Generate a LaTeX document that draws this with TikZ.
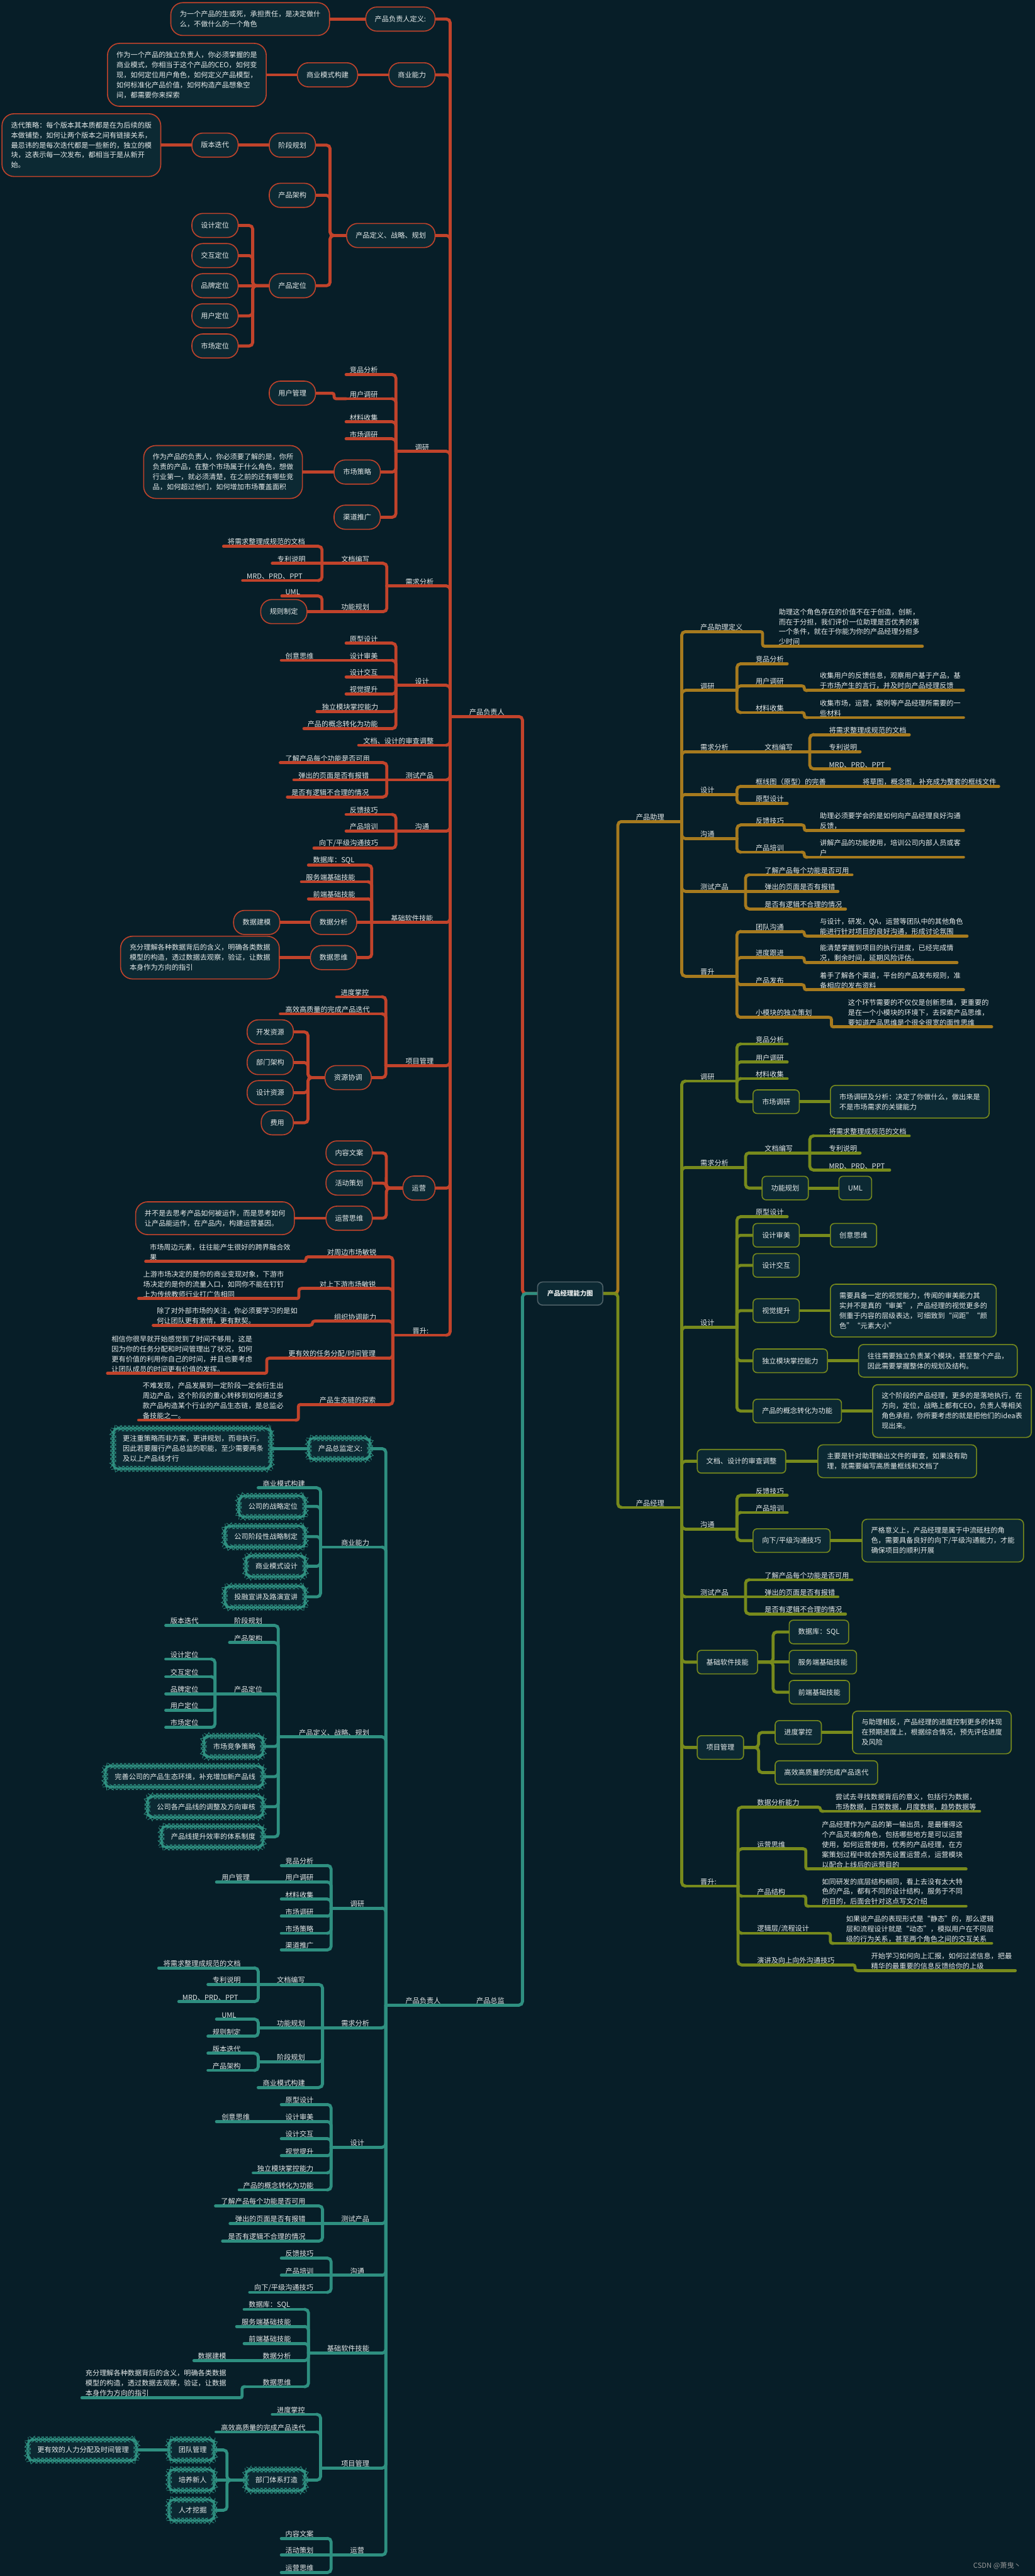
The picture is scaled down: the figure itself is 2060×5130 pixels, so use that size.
\documentclass[tikz,border=0pt]{standalone}
\usepackage{fontspec}
\setmainfont{Noto Sans CJK SC}
\usetikzlibrary{backgrounds,decorations.pathmorphing}
\definecolor{bgc}{RGB}{7,30,40}
\definecolor{nfill}{RGB}{12,41,51}
\definecolor{cred}{RGB}{193,67,43}
\definecolor{cgold}{RGB}{166,122,30}
\definecolor{coli}{RGB}{119,138,28}
\definecolor{cteal}{RGB}{46,143,128}
\definecolor{ctxt}{RGB}{230,235,235}
\definecolor{cgray}{RGB}{79,97,104}
\newcommand\fsz{\fontsize{14}{20}\selectfont}
\newcommand\ML[7]{%
  \coordinate (#1-l) at (#3,#5);%
  \coordinate (#1-r) at (#4,#5);%
  \node[lt,anchor=south west] (#1) at (#6,#5-2) {#7};%
  \draw[ln=#2] (#1-l) -- (#1-r);%
}
\newcommand\CV[3]{\draw[ln=#1] (#2) |- (#3);}
\newcommand\CS[3]{\draw[ln=#1] (#2) -- (#3);}
\newcommand\CX[4]{\draw[ln=#1] (#2) -- ++(#3,0) |- (#4);}
\newcommand\CT[3]{\draw[ln=#1,rounded corners=4pt] (#2) -- ++(-6,0) |- (#3);}
\newcommand\CTR[3]{\draw[ln=#1,rounded corners=4pt] (#2) -- ++(6,0) |- (#3);}
\begin{document}
\begin{tikzpicture}[x=1pt,y=-1pt,
  lt/.style={inner sep=0pt,align=left,text=ctxt,font=\fsz},
  ln/.style={draw=#1,line width=6pt,line cap=round,rounded corners=7pt},
  rb/.style={draw=cred,line width=2pt,fill=nfill,rounded corners=22pt,minimum height=48pt,inner xsep=18pt,inner ysep=0pt,text=ctxt,font=\fsz},
  rtb/.style={draw=cred,line width=2pt,fill=nfill,rounded corners=24pt,inner xsep=18pt,inner ysep=16pt,align=left,text=ctxt,font=\fsz},
  ob/.style={draw=coli,line width=2pt,fill=nfill,rounded corners=8pt,minimum height=47pt,inner xsep=18pt,inner ysep=0pt,text=ctxt,font=\fsz},
  otb/.style={draw=coli,line width=2pt,fill=nfill,rounded corners=10pt,inner xsep=18pt,inner ysep=16pt,align=left,text=ctxt,font=\fsz},
  tc/.style={draw=cteal,line width=1.1pt,fill=nfill,rounded corners=10pt,decorate,decoration={snake,segment length=8pt,amplitude=0.9pt},minimum height=42pt,inner xsep=17pt,inner ysep=0pt,text=ctxt,font=\fsz},
  tct/.style={draw=cteal,line width=1.1pt,fill=nfill,rounded corners=10pt,decorate,decoration={snake,segment length=8pt,amplitude=0.9pt},inner xsep=17pt,inner ysep=14pt,align=left,text=ctxt,font=\fsz}
]
\begin{scope}[on background layer]\fill[bgc] (0,0) rectangle (2060,5130);\end{scope}
\useasboundingbox (0,0) rectangle (2060,5130);

\node[draw=cgray,line width=2pt,fill=nfill,rounded corners=10pt,minimum width=130pt,minimum height=46pt,font=\bfseries\fontsize{13}{15}\selectfont,text=ctxt] (ctr) at (1135,2576) {产品经理能力图};

% ================= RED =================
\ML{pfr}{cred}{896}{1033}{1427}{934}{产品负责人}
\node[rb,anchor=east] (r1) at (867,38) {产品负责人定义:};
\node[rtb,anchor=east] (r1t) at (657,38) {为一个产品的生或死，承担责任，是决定做什\\么，不做什么的一个角色};
\node[rb,anchor=east] (r2) at (867,149) {商业能力};
\node[rb,anchor=east] (r2a) at (713,149) {商业模式构建};
\node[rtb,anchor=east] (r2at) at (531,149) {作为一个产品的独立负责人，你必须掌握的是\\商业模式，你相当于这个产品的CEO，如何变\\现，如何定位用户角色，如何定义产品模型，\\如何标准化产品价值，如何构造产品想象空\\间，都需要你来探索};
\node[rb,anchor=east] (r3) at (867,469) {产品定义、战略、规划};
\node[rb,anchor=east] (r3a) at (629,289) {阶段规划};
\node[rb,anchor=east] (r3a1) at (475,289) {版本迭代};
\node[rtb,anchor=east] (r3a1t) at (321,289) {迭代策略：每个版本其本质都是在为后续的版\\本做铺垫，如何让两个版本之间有链接关系，\\最忌讳的是每次迭代都是一些新的，独立的模\\块，这表示每一次发布，都相当于是从新开\\始。};
\node[rb,anchor=east] (r3b) at (629,389) {产品架构};
\node[rb,anchor=east] (r3c) at (629,569) {产品定位};
\node[rb,anchor=east] (r3c1) at (475,449) {设计定位};
\node[rb,anchor=east] (r3c2) at (475,509) {交互定位};
\node[rb,anchor=east] (r3c3) at (475,569) {品牌定位};
\node[rb,anchor=east] (r3c4) at (475,629) {用户定位};
\node[rb,anchor=east] (r3c5) at (475,689) {市场定位};
\ML{r4}{cred}{788}{888}{899}{826}{调研}
\ML{r4a}{cred}{689}{780}{746}{696}{竞品分析}
\ML{r4b}{cred}{689}{780}{794}{696}{用户调研}
\node[rb,anchor=east] (r4b1) at (629,783) {用户管理};
\ML{r4c}{cred}{689}{780}{840}{696}{材料收集}
\ML{r4d}{cred}{689}{780}{874}{696}{市场调研}
\node[rb,anchor=east] (r4e) at (758,940) {市场策略};
\node[rtb,anchor=east] (r4et) at (603,940) {作为产品的负责人，你必须要了解的是，你所\\负责的产品，在整个市场属于什么角色，想做\\行业第一，就必须清楚，在之前的还有哪些竞\\品，如何超过他们，如何增加市场覆盖面积};
\node[rb,anchor=east] (r4f) at (758,1030) {渠道推广};
\ML{r5}{cred}{770}{888}{1167}{807}{需求分析}
\ML{r5a}{cred}{641}{762}{1122}{679}{文档编写}
\ML{r5a1}{cred}{445}{633}{1088}{453}{将需求整理成规范的文档}
\ML{r5a2}{cred}{542}{633}{1122}{552}{专利说明}
\ML{r5a3}{cred}{483}{633}{1156}{491}{MRD、PRD、PPT}
\ML{r5b}{cred}{641}{762}{1218}{679}{功能规划}
\ML{r5b1}{cred}{561}{633}{1187}{568}{UML}
\node[rb,anchor=east] (r5b2) at (612,1218) {规则制定};
\ML{r6}{cred}{788}{888}{1365}{826}{设计}
\ML{r6a}{cred}{689}{780}{1281}{696}{原型设计}
\ML{r6b}{cred}{689}{780}{1315}{696}{设计审美}
\ML{r6b1}{cred}{560}{689}{1315}{568}{创意思维}
\ML{r6c}{cred}{689}{780}{1348}{696}{设计交互}
\ML{r6d}{cred}{689}{780}{1382}{696}{视觉提升}
\ML{r6e}{cred}{631}{780}{1417}{641}{独立模块掌控能力}
\ML{r6f}{cred}{605}{780}{1451}{612}{产品的概念转化为功能}
\ML{r7}{cred}{714}{888}{1484}{723}{文档、设计的审查调整}
\ML{r8}{cred}{770}{888}{1553}{807}{测试产品}
\ML{r8a}{cred}{558}{762}{1519}{568}{了解产品每个功能是否可用}
\ML{r8b}{cred}{585}{762}{1553}{594}{弹出的页面是否有报错}
\ML{r8c}{cred}{572}{762}{1587}{580}{是否有逻辑不合理的情况}
\ML{r9}{cred}{788}{888}{1655}{826}{沟通}
\ML{r9a}{cred}{689}{780}{1622}{696}{反馈技巧}
\ML{r9b}{cred}{689}{780}{1655}{696}{产品培训}
\ML{r9c}{cred}{625}{780}{1689}{635}{向下/平级沟通技巧}
\ML{r10}{cred}{740}{888}{1837}{778}{基础软件技能}
\ML{r10a}{cred}{614}{732}{1723}{623}{数据库：SQL}
\ML{r10b}{cred}{600}{732}{1756}{609}{服务端基础技能}
\ML{r10c}{cred}{614}{732}{1790}{623}{前端基础技能}
\node[rb,anchor=east] (r10d) at (711,1837) {数据分析};
\node[rb,anchor=east] (r10d1) at (558,1837) {数据建模};
\node[rb,anchor=east] (r10e) at (711,1907) {数据思维};
\node[rtb,anchor=east] (r10et) at (557,1907) {充分理解各种数据背后的含义，明确各类数据\\模型的构造，透过数据去观察，验证，让数据\\本身作为方向的指引};
\ML{r11}{cred}{768}{888}{2122}{807}{项目管理}
\ML{r11a}{cred}{670}{760}{1985}{678}{进度掌控}
\ML{r11b}{cred}{558}{760}{2019}{568}{高效高质量的完成产品迭代}
\node[rb,anchor=east] (r11c) at (740,2146) {资源协调};
\node[rb,anchor=east] (r11c1) at (585,2055) {开发资源};
\node[rb,anchor=east] (r11c2) at (585,2116) {部门架构};
\node[rb,anchor=east] (r11c3) at (585,2176) {设计资源};
\node[rb,anchor=east] (r11c4) at (585,2236) {费用};
\node[rb,anchor=east] (r12) at (867,2366) {运营};
\node[rb,anchor=east] (r12a) at (742,2296) {内容文案};
\node[rb,anchor=east] (r12b) at (742,2356) {活动策划};
\node[rb,anchor=east] (r12c) at (742,2426) {运营思维};
\node[rtb,anchor=east] (r12ct) at (587,2426) {并不是去思考产品如何被运作，而是思考如何\\让产品能运作，在产品内，构建运营基因。};
\ML{r13}{cred}{782}{888}{2659}{821}{晋升:}
\ML{r13a}{cred}{615}{774}{2503}{651}{对周边市场敏锐}
\ML{r13at}{cred}{290}{603}{2512}{298}{市场周边元素，往往能产生很好的跨界融合效\\果}
\ML{r13b}{cred}{601}{774}{2566}{636}{对上下游市场敏锐}
\ML{r13bt}{cred}{276}{589}{2586}{285}{上游市场决定的是你的商业变现对象，下游市\\场决定的是你的流量入口，如同你不能在钉钉\\上为传统教师行业打广告相同}
\ML{r13c}{cred}{628}{774}{2631}{665}{组织协调能力}
\ML{r13ct}{cred}{305}{616}{2639}{312}{除了对外部市场的关注，你必须要学习的是如\\何让团队更有激情，更有默契。}
\ML{r13d}{cred}{537}{774}{2705}{574}{更有效的任务分配/时间管理}
\ML{r13dt}{cred}{214}{525}{2735}{222}{相信你很早就开始感觉到了时间不够用，这是\\因为你的任务分配和时间管理出了状况，如何\\更有价值的利用你自己的时间，并且也要考虑\\让团队成员的时间更有价值的发挥。}
\ML{r13e}{cred}{600}{774}{2797}{636}{产品生态链的探索}
\ML{r13et}{cred}{276}{588}{2828}{284}{不难发现，产品发展到一定阶段一定会衍生出\\周边产品，这个阶段的重心转移到如何通过多\\款产品构造某个行业的产品生态链，是总监必\\备技能之一。}

% ================= GOLD =================
\ML{zl}{cgold}{1237}{1357}{1636}{1266}{产品助理}
\ML{g1}{cgold}{1365}{1512}{1258}{1394}{产品助理定义}
\ML{g1t}{cgold}{1524}{1836}{1287}{1550}{助理这个角色存在的价值不在于创造，创新，\\而在于分担，我们评价一位助理是否优秀的第\\一个条件，就在于你能为你的产品经理分担多\\少时间}
\ML{g2}{cgold}{1365}{1467}{1375}{1394}{调研}
\ML{g2a}{cgold}{1475}{1567}{1322}{1504}{竞品分析}
\ML{g2b}{cgold}{1475}{1595}{1366}{1504}{用户调研}
\ML{g2bt}{cgold}{1607}{1918}{1375}{1632}{收集用户的反馈信息，观察用户基于产品，基\\于市场产生的言行，并及时向产品经理反馈}
\ML{g2c}{cgold}{1475}{1595}{1419}{1504}{材料收集}
\ML{g2ct}{cgold}{1607}{1918}{1429}{1632}{收集市场，运营，案例等产品经理所需要的一\\些材料}
\ML{g3}{cgold}{1365}{1500}{1497}{1394}{需求分析}
\ML{g3a}{cgold}{1500}{1612}{1497}{1522}{文档编写}
\ML{g3a1}{cgold}{1620}{1810}{1463}{1650}{将需求整理成规范的文档}
\ML{g3a2}{cgold}{1620}{1712}{1497}{1650}{专利说明}
\ML{g3a3}{cgold}{1620}{1771}{1531}{1650}{MRD、PRD、PPT}
\ML{g4}{cgold}{1365}{1467}{1582}{1394}{设计}
\ML{g4a}{cgold}{1475}{1700}{1566}{1504}{框线图（原型）的完善}
\ML{g4at}{cgold}{1700}{1988}{1566}{1717}{将草图，概念图，补充成为整套的框线文件}
\ML{g4b}{cgold}{1475}{1567}{1600}{1504}{原型设计}
\ML{g5}{cgold}{1365}{1467}{1670}{1394}{沟通}
\ML{g5a}{cgold}{1475}{1595}{1643}{1504}{反馈技巧}
\ML{g5at}{cgold}{1607}{1918}{1654}{1632}{助理必须要学会的是如何向产品经理良好沟通\\反馈，}
\ML{g5b}{cgold}{1475}{1595}{1697}{1504}{产品培训}
\ML{g5bt}{cgold}{1607}{1918}{1707}{1632}{讲解产品的功能使用，培训公司内部人员或客\\户}
\ML{g6}{cgold}{1365}{1484}{1775}{1394}{测试产品}
\ML{g6a}{cgold}{1492}{1696}{1742}{1522}{了解产品每个功能是否可用}
\ML{g6b}{cgold}{1492}{1668}{1775}{1522}{弹出的页面是否有报错}
\ML{g6c}{cgold}{1492}{1683}{1810}{1522}{是否有逻辑不合理的情况}
\ML{g7}{cgold}{1365}{1467}{1944}{1394}{晋升}
\ML{g7a}{cgold}{1475}{1595}{1855}{1504}{团队沟通}
\ML{g7at}{cgold}{1607}{1925}{1864}{1632}{与设计，研发，QA，运营等团队中的其他角色\\能进行针对项目的良好沟通，形成讨论氛围}
\ML{g7b}{cgold}{1475}{1595}{1907}{1504}{进度跟进}
\ML{g7bt}{cgold}{1607}{1905}{1917}{1632}{能清楚掌握到项目的执行进度，已经完成情\\况，剩余时间，延期风险评估。}
\ML{g7c}{cgold}{1475}{1595}{1961}{1504}{产品发布}
\ML{g7ct}{cgold}{1607}{1918}{1971}{1632}{着手了解各个渠道，平台的产品发布规则，准\\备相应的发布资料}
\ML{g7d}{cgold}{1475}{1649}{2026}{1504}{小模块的独立策划}
\ML{g7dt}{cgold}{1661}{1974}{2045}{1688}{这个环节需要的不仅仅是创新思维，更重要的\\是在一个小模块的环境下，去探索产品思维，\\要知道产品思维是个很全很宽的面性思维}

% ================= OLIVE =================
\ML{jl}{coli}{1237}{1357}{3002}{1266}{产品经理}
\ML{o1}{coli}{1365}{1467}{2153}{1394}{调研}
\ML{o1a}{coli}{1475}{1567}{2079}{1504}{竞品分析}
\ML{o1b}{coli}{1475}{1567}{2115}{1504}{用户调研}
\ML{o1c}{coli}{1475}{1567}{2148}{1504}{材料收集}
\node[ob,anchor=west] (o1d) at (1498,2194) {市场调研};
\node[otb,anchor=west] (o1dt) at (1652,2194) {市场调研及分析：决定了你做什么，做出来是\\不是市场需求的关键能力};
\ML{o2}{coli}{1365}{1484}{2325}{1394}{需求分析}
\ML{o2a}{coli}{1492}{1612}{2296}{1522}{文档编写}
\ML{o2a1}{coli}{1620}{1810}{2262}{1650}{将需求整理成规范的文档}
\ML{o2a2}{coli}{1620}{1712}{2296}{1650}{专利说明}
\ML{o2a3}{coli}{1620}{1771}{2330}{1650}{MRD、PRD、PPT}
\node[ob,anchor=west] (o2b) at (1516,2366) {功能规划};
\node[ob,anchor=west] (o2b1) at (1669,2366) {UML};
\ML{o3}{coli}{1365}{1467}{2643}{1394}{设计}
\ML{o3a}{coli}{1475}{1567}{2423}{1504}{原型设计}
\node[ob,anchor=west] (o3b) at (1498,2460) {设计审美};
\node[ob,anchor=west] (o3b1) at (1652,2460) {创意思维};
\node[ob,anchor=west] (o3c) at (1498,2520) {设计交互};
\node[ob,anchor=west] (o3d) at (1498,2610) {视觉提升};
\node[otb,anchor=west] (o3dt) at (1652,2610) {需要具备一定的视觉能力，传闻的审美能力其\\实并不是真的“审美”，产品经理的视觉更多的\\侧重于内容的层级表达，可细致到“间距”“颜\\色”“元素大小”};
\node[ob,anchor=west] (o3e) at (1498,2710) {独立模块掌控能力};
\node[otb,anchor=west] (o3et) at (1708,2710) {往往需要独立负责某个模块，甚至整个产品，\\因此需要掌握整体的规划及结构。};
\node[ob,anchor=west] (o3f) at (1498,2810) {产品的概念转化为功能};
\node[otb,anchor=west] (o3ft) at (1736,2810) {这个阶段的产品经理，更多的是落地执行，在\\方向，定位，战略上都有CEO，负责人等相关\\角色承担，你所要考虑的就是把他们的idea表\\现出来。};
\node[ob,anchor=west] (o4) at (1387,2910) {文档、设计的审查调整};
\node[otb,anchor=west] (o4t) at (1627,2910) {主要是针对助理输出文件的审查，如果没有助\\理，就需要编写高质量框线和文档了};
\ML{o5}{coli}{1365}{1467}{3045}{1394}{沟通}
\ML{o5a}{coli}{1475}{1567}{2978}{1504}{反馈技巧}
\ML{o5b}{coli}{1475}{1567}{3012}{1504}{产品培训}
\node[ob,anchor=west] (o5c) at (1498,3068) {向下/平级沟通技巧};
\node[otb,anchor=west] (o5ct) at (1715,3068) {严格意义上，产品经理是属于中流砥柱的角\\色，需要具备良好的向下/平级沟通能力，才能\\确保项目的顺利开展};
\ML{o6}{coli}{1365}{1484}{3180}{1394}{测试产品}
\ML{o6a}{coli}{1492}{1696}{3146}{1522}{了解产品每个功能是否可用}
\ML{o6b}{coli}{1492}{1668}{3180}{1522}{弹出的页面是否有报错}
\ML{o6c}{coli}{1492}{1683}{3214}{1522}{是否有逻辑不合理的情况}
\node[ob,anchor=west] (o7) at (1387,3310) {基础软件技能};
\node[ob,anchor=west] (o7a) at (1570,3250) {数据库：SQL};
\node[ob,anchor=west] (o7b) at (1570,3310) {服务端基础技能};
\node[ob,anchor=west] (o7c) at (1570,3370) {前端基础技能};
\node[ob,anchor=west] (o8) at (1387,3480) {项目管理};
\node[ob,anchor=west] (o8a) at (1542,3450) {进度掌控};
\node[otb,anchor=west] (o8at) at (1696,3450) {与助理相反，产品经理的进度控制更多的体现\\在预期进度上，根据综合情况，预先评估进度\\及风险};
\node[ob,anchor=west] (o8b) at (1542,3530) {高效高质量的完成产品迭代};
\ML{o9}{coli}{1365}{1469}{3756}{1394}{晋升:}
\ML{o9a}{coli}{1477}{1627}{3599}{1507}{数据分析能力}
\ML{o9at}{coli}{1639}{1950}{3607}{1663}{尝试去寻找数据背后的意义，包括行为数据，\\市场数据，日常数据，月度数据，趋势数据等}
\ML{o9b}{coli}{1477}{1598}{3682}{1507}{运营思维}
\ML{o9bt}{coli}{1610}{1923}{3722}{1636}{产品经理作为产品的第一输出员，是最懂得这\\个产品灵魂的角色，包括哪些地方是可以运营\\使用，如何运营使用，优秀的产品经理，在方\\案策划过程中就会预先设置运营点，运营模块\\以配合上线后的运营目的}
\ML{o9c}{coli}{1477}{1598}{3776}{1507}{产品结构}
\ML{o9ct}{coli}{1610}{1923}{3796}{1636}{如同研发的底层结构相同，看上去没有太大特\\色的产品，都有不同的设计结构，服务于不同\\的目的，后面会针对这点写文介绍}
\ML{o9d}{coli}{1477}{1647}{3850}{1507}{逻辑层/流程设计}
\ML{o9dt}{coli}{1659}{1974}{3870}{1684}{如果说产品的表现形式是“静态”的，那么逻辑\\层和流程设计就是“动态”，模拟用户在不同层\\级的行为关系，甚至两个角色之间的交互关系}
\ML{o9e}{coli}{1477}{1696}{3913}{1507}{演讲及向上向外沟通技巧}
\ML{o9et}{coli}{1708}{2021}{3924}{1734}{开始学习如何向上汇报，如何过滤信息，把最\\精华的最重要的信息反馈给你的上级}

% ================= TEAL =================
\ML{tz}{cteal}{910}{1033}{3993}{948}{产品总监}
\ML{tp}{cteal}{768}{910}{3993}{807}{产品负责人}
\node[tc,anchor=east] (t1) at (739,2885) {产品总监定义:};
\node[tct,anchor=east] (t1t) at (542,2885) {更注重策略而非方案，更讲规划，而非执行。\\因此若要履行产品总监的职能，至少需要两条\\及以上产品线才行};
\ML{t2}{cteal}{638}{760}{3081}{679}{商业能力}
\ML{t2a}{cteal}{514}{630}{2963}{523}{商业模式构建}
\node[tc,anchor=east] (t2b) at (610,3000) {公司的战略定位};
\node[tc,anchor=east] (t2c) at (610,3060) {公司阶段性战略制定};
\node[tc,anchor=east] (t2d) at (610,3119) {商业模式设计};
\node[tc,anchor=east] (t2e) at (610,3180) {投融宣讲及路演宣讲};
\ML{t3}{cteal}{554}{760}{3459}{595}{产品定义、战略、规划}
\ML{t3a}{cteal}{455}{546}{3237}{466}{阶段规划}
\ML{t3a1}{cteal}{330}{455}{3237}{339}{版本迭代}
\ML{t3b}{cteal}{457}{546}{3271}{466}{产品架构}
\ML{t3c}{cteal}{428}{546}{3373}{466}{产品定位}
\ML{t3c1}{cteal}{330}{420}{3304}{339}{设计定位}
\ML{t3c2}{cteal}{330}{420}{3339}{339}{交互定位}
\ML{t3c3}{cteal}{330}{420}{3373}{339}{品牌定位}
\ML{t3c4}{cteal}{330}{420}{3406}{339}{用户定位}
\ML{t3c5}{cteal}{330}{420}{3440}{339}{市场定位}
\node[tc,anchor=east] (t3d) at (526,3478) {市场竞争策略};
\node[tc,anchor=east] (t3e) at (526,3538) {完善公司的产品生态环境，补充增加新产品线};
\node[tc,anchor=east] (t3f) at (526,3598) {公司各产品线的调整及方向审核};
\node[tc,anchor=east] (t3g) at (526,3658) {产品线提升效率的体系制度};
\ML{t4}{cteal}{659}{760}{3800}{697}{调研}
\ML{t4a}{cteal}{560}{651}{3715}{568}{竞品分析}
\ML{t4b}{cteal}{560}{651}{3748}{568}{用户调研}
\ML{t4b1}{cteal}{431}{560}{3748}{441}{用户管理}
\ML{t4c}{cteal}{560}{651}{3782}{568}{材料收集}
\ML{t4d}{cteal}{560}{651}{3816}{568}{市场调研}
\ML{t4e}{cteal}{560}{651}{3850}{568}{市场策略}
\ML{t4f}{cteal}{560}{651}{3883}{568}{渠道推广}
\ML{t5}{cteal}{642}{760}{4038}{679}{需求分析}
\ML{t5a}{cteal}{514}{634}{3952}{551}{文档编写}
\ML{t5a1}{cteal}{316}{506}{3919}{325}{将需求整理成规范的文档}
\ML{t5a2}{cteal}{414}{506}{3952}{423}{专利说明}
\ML{t5a3}{cteal}{356}{506}{3986}{363}{MRD、PRD、PPT}
\ML{t5b}{cteal}{514}{634}{4038}{551}{功能规划}
\ML{t5b1}{cteal}{431}{506}{4021}{441}{UML}
\ML{t5b2}{cteal}{414}{506}{4055}{423}{规则制定}
\ML{t5c}{cteal}{514}{634}{4106}{551}{阶段规划}
\ML{t5c1}{cteal}{414}{506}{4089}{423}{版本迭代}
\ML{t5c2}{cteal}{414}{506}{4123}{423}{产品架构}
\ML{t5d}{cteal}{514}{634}{4157}{523}{商业模式构建}
\ML{t6}{cteal}{659}{760}{4276}{697}{设计}
\ML{t6a}{cteal}{560}{651}{4191}{568}{原型设计}
\ML{t6b}{cteal}{560}{651}{4225}{568}{设计审美}
\ML{t6b1}{cteal}{431}{560}{4225}{441}{创意思维}
\ML{t6c}{cteal}{560}{651}{4259}{568}{设计交互}
\ML{t6d}{cteal}{560}{651}{4293}{568}{视觉提升}
\ML{t6e}{cteal}{504}{651}{4327}{512}{独立模块掌控能力}
\ML{t6f}{cteal}{476}{651}{4361}{484}{产品的概念转化为功能}
\ML{t7}{cteal}{642}{760}{4428}{679}{测试产品}
\ML{t7a}{cteal}{429}{634}{4393}{440}{了解产品每个功能是否可用}
\ML{t7b}{cteal}{458}{634}{4428}{468}{弹出的页面是否有报错}
\ML{t7c}{cteal}{443}{634}{4463}{454}{是否有逻辑不合理的情况}
\ML{t8}{cteal}{659}{760}{4531}{697}{沟通}
\ML{t8a}{cteal}{560}{651}{4497}{568}{反馈技巧}
\ML{t8b}{cteal}{560}{651}{4531}{568}{产品培训}
\ML{t8c}{cteal}{497}{651}{4565}{506}{向下/平级沟通技巧}
\ML{t9}{cteal}{614}{760}{4686}{651}{基础软件技能}
\ML{t9a}{cteal}{486}{606}{4599}{495}{数据库：SQL}
\ML{t9b}{cteal}{471}{606}{4633}{481}{服务端基础技能}
\ML{t9c}{cteal}{486}{606}{4667}{495}{前端基础技能}
\ML{t9d}{cteal}{514}{606}{4701}{523}{数据分析}
\ML{t9d1}{cteal}{386}{514}{4701}{394}{数据建模}
\ML{t9e}{cteal}{488}{606}{4753}{523}{数据思维}
\ML{t9et}{cteal}{163}{476}{4775}{170}{充分理解各种数据背后的含义，明确各类数据\\模型的构造，透过数据去观察，验证，让数据\\本身作为方向的指引}
\ML{t10}{cteal}{638}{760}{4915}{679}{项目管理}
\ML{t10a}{cteal}{542}{630}{4808}{551}{进度掌控}
\ML{t10b}{cteal}{430}{630}{4843}{440}{高效高质量的完成产品迭代}
\node[tc,anchor=east] (t10c) at (610,4939) {部门体系打造};
\node[tc,anchor=east] (t10c1) at (429,4879) {团队管理};
\node[tc,anchor=east] (t10c1t) at (274,4879) {更有效的人力分配及时间管理};
\node[tc,anchor=east] (t10c2) at (429,4939) {培养新人};
\node[tc,anchor=east] (t10c3) at (429,4999) {人才挖掘};
\ML{t11}{cteal}{659}{760}{5088}{697}{运营}
\ML{t11a}{cteal}{560}{651}{5055}{568}{内容文案}
\ML{t11b}{cteal}{560}{651}{5088}{568}{活动策划}
\ML{t11c}{cteal}{560}{651}{5123}{568}{运营思维}

\node[font=\fontsize{14}{16}\selectfont,text=gray!80] (wm) at (1985,5110) {CSDN @萧曳丶};

% ================= CONNECTORS =================
\begin{scope}[on background layer]
% red
\draw[ln=cred] (ctr.west) -- ++(-29,0) |- (pfr-r);
\CV{cred}{pfr-l}{r1.east}\CV{cred}{pfr-l}{r2.east}\CV{cred}{pfr-l}{r3.east}
\CV{cred}{pfr-l}{r4-r}\CV{cred}{pfr-l}{r5-r}\CV{cred}{pfr-l}{r6-r}\CV{cred}{pfr-l}{r7-r}
\CV{cred}{pfr-l}{r8-r}\CV{cred}{pfr-l}{r9-r}\CV{cred}{pfr-l}{r10-r}\CV{cred}{pfr-l}{r11-r}
\CV{cred}{pfr-l}{r12.east}\CV{cred}{pfr-l}{r13-r}
\CS{cred}{r1.west}{r1t.east}
\CS{cred}{r2.west}{r2a.east}\CS{cred}{r2a.west}{r2at.east}
\CX{cred}{r3.west}{-32}{r3a.east}\CX{cred}{r3.west}{-32}{r3b.east}\CX{cred}{r3.west}{-32}{r3c.east}
\CS{cred}{r3a.west}{r3a1.east}\CS{cred}{r3a1.west}{r3a1t.east}
\CX{cred}{r3c.west}{-32}{r3c1.east}\CX{cred}{r3c.west}{-32}{r3c2.east}\CS{cred}{r3c.west}{r3c3.east}
\CX{cred}{r3c.west}{-32}{r3c4.east}\CX{cred}{r3c.west}{-32}{r3c5.east}
\CV{cred}{r4-l}{r4a-r}\CV{cred}{r4-l}{r4b-r}\CV{cred}{r4-l}{r4c-r}\CV{cred}{r4-l}{r4d-r}
\CV{cred}{r4-l}{r4e.east}\CV{cred}{r4-l}{r4f.east}
\draw[ln=cred,rounded corners=4pt] (r4b-l) -- ++(-24,0) |- (r4b1.east);
\CS{cred}{r4e.west}{r4et.east}
\CV{cred}{r5-l}{r5a-r}\CV{cred}{r5-l}{r5b-r}
\CV{cred}{r5a-l}{r5a1-r}\CS{cred}{r5a-l}{r5a2-r}\CV{cred}{r5a-l}{r5a3-r}
\CV{cred}{r5b-l}{r5b1-r}\CS{cred}{r5b-l}{r5b2.east}
\CV{cred}{r6-l}{r6a-r}\CV{cred}{r6-l}{r6b-r}\CV{cred}{r6-l}{r6c-r}\CV{cred}{r6-l}{r6d-r}
\CV{cred}{r6-l}{r6e-r}\CV{cred}{r6-l}{r6f-r}
\CV{cred}{r8-l}{r8a-r}\CS{cred}{r8-l}{r8b-r}\CV{cred}{r8-l}{r8c-r}
\CV{cred}{r9-l}{r9a-r}\CS{cred}{r9-l}{r9b-r}\CV{cred}{r9-l}{r9c-r}
\CV{cred}{r10-l}{r10a-r}\CV{cred}{r10-l}{r10b-r}\CV{cred}{r10-l}{r10c-r}
\CS{cred}{r10-l}{r10d.east}\CV{cred}{r10-l}{r10e.east}
\CS{cred}{r10d.west}{r10d1.east}\CS{cred}{r10e.west}{r10et.east}
\CV{cred}{r11-l}{r11a-r}\CV{cred}{r11-l}{r11b-r}\CV{cred}{r11-l}{r11c.east}
\CX{cred}{r11c.west}{-33}{r11c1.east}\CX{cred}{r11c.west}{-33}{r11c2.east}
\CX{cred}{r11c.west}{-33}{r11c3.east}\CX{cred}{r11c.west}{-33}{r11c4.east}
\CX{cred}{r12.west}{-32}{r12a.east}\CX{cred}{r12.west}{-32}{r12b.east}\CX{cred}{r12.west}{-32}{r12c.east}
\CS{cred}{r12c.west}{r12ct.east}
\CV{cred}{r13-l}{r13a-r}\CV{cred}{r13-l}{r13b-r}\CV{cred}{r13-l}{r13c-r}
\CV{cred}{r13-l}{r13d-r}\CV{cred}{r13-l}{r13e-r}
\CT{cred}{r13a-l}{r13at-r}\CT{cred}{r13b-l}{r13bt-r}\CT{cred}{r13c-l}{r13ct-r}
\CT{cred}{r13d-l}{r13dt-r}\CT{cred}{r13e-l}{r13et-r}
% gold
\draw[ln=cgold] (ctr.east) -- ++(29,0) |- (zl-l);
\CV{cgold}{zl-r}{g1-l}\CV{cgold}{zl-r}{g2-l}\CV{cgold}{zl-r}{g3-l}\CV{cgold}{zl-r}{g4-l}
\CV{cgold}{zl-r}{g5-l}\CV{cgold}{zl-r}{g6-l}\CV{cgold}{zl-r}{g7-l}
\CTR{cgold}{g1-r}{g1t-l}
\CV{cgold}{g2-r}{g2a-l}\CV{cgold}{g2-r}{g2b-l}\CV{cgold}{g2-r}{g2c-l}
\CTR{cgold}{g2b-r}{g2bt-l}\CTR{cgold}{g2c-r}{g2ct-l}
\CS{cgold}{g3-r}{g3a-l}
\CV{cgold}{g3a-r}{g3a1-l}\CS{cgold}{g3a-r}{g3a2-l}\CV{cgold}{g3a-r}{g3a3-l}
\CV{cgold}{g4-r}{g4a-l}\CV{cgold}{g4-r}{g4b-l}\CS{cgold}{g4a-r}{g4at-l}
\CV{cgold}{g5-r}{g5a-l}\CV{cgold}{g5-r}{g5b-l}
\CTR{cgold}{g5a-r}{g5at-l}\CTR{cgold}{g5b-r}{g5bt-l}
\CV{cgold}{g6-r}{g6a-l}\CS{cgold}{g6-r}{g6b-l}\CV{cgold}{g6-r}{g6c-l}
\CV{cgold}{g7-r}{g7a-l}\CV{cgold}{g7-r}{g7b-l}\CV{cgold}{g7-r}{g7c-l}\CV{cgold}{g7-r}{g7d-l}
\CTR{cgold}{g7a-r}{g7at-l}\CTR{cgold}{g7b-r}{g7bt-l}\CTR{cgold}{g7c-r}{g7ct-l}\CTR{cgold}{g7d-r}{g7dt-l}
% olive
\draw[ln=coli] (ctr.east) -- ++(29,0) |- (jl-l);
\CV{coli}{jl-r}{o1-l}\CV{coli}{jl-r}{o2-l}\CV{coli}{jl-r}{o3-l}\CV{coli}{jl-r}{o4.west}
\CV{coli}{jl-r}{o5-l}\CV{coli}{jl-r}{o6-l}\CV{coli}{jl-r}{o7.west}\CV{coli}{jl-r}{o8.west}
\CV{coli}{jl-r}{o9-l}
\CV{coli}{o1-r}{o1a-l}\CV{coli}{o1-r}{o1b-l}\CV{coli}{o1-r}{o1c-l}\CV{coli}{o1-r}{o1d.west}
\CS{coli}{o1d.east}{o1dt.west}
\CV{coli}{o2-r}{o2a-l}\CV{coli}{o2-r}{o2b.west}
\CV{coli}{o2a-r}{o2a1-l}\CS{coli}{o2a-r}{o2a2-l}\CV{coli}{o2a-r}{o2a3-l}
\CS{coli}{o2b.east}{o2b1.west}
\CV{coli}{o3-r}{o3a-l}\CV{coli}{o3-r}{o3b.west}\CV{coli}{o3-r}{o3c.west}
\CV{coli}{o3-r}{o3d.west}\CV{coli}{o3-r}{o3e.west}\CV{coli}{o3-r}{o3f.west}
\CS{coli}{o3b.east}{o3b1.west}\CS{coli}{o3d.east}{o3dt.west}
\CS{coli}{o3e.east}{o3et.west}\CS{coli}{o3f.east}{o3ft.west}
\CS{coli}{o4.east}{o4t.west}
\CV{coli}{o5-r}{o5a-l}\CV{coli}{o5-r}{o5b-l}\CV{coli}{o5-r}{o5c.west}
\CS{coli}{o5c.east}{o5ct.west}
\CV{coli}{o6-r}{o6a-l}\CS{coli}{o6-r}{o6b-l}\CV{coli}{o6-r}{o6c-l}
\CX{coli}{o7.east}{30}{o7a.west}\CS{coli}{o7.east}{o7b.west}\CX{coli}{o7.east}{30}{o7c.west}
\CX{coli}{o8.east}{29}{o8a.west}\CX{coli}{o8.east}{29}{o8b.west}
\CS{coli}{o8a.east}{o8at.west}
\CV{coli}{o9-r}{o9a-l}\CV{coli}{o9-r}{o9b-l}\CV{coli}{o9-r}{o9c-l}
\CV{coli}{o9-r}{o9d-l}\CV{coli}{o9-r}{o9e-l}
\CTR{coli}{o9a-r}{o9at-l}\CTR{coli}{o9b-r}{o9bt-l}\CTR{coli}{o9c-r}{o9ct-l}
\CTR{coli}{o9d-r}{o9dt-l}\CTR{coli}{o9e-r}{o9et-l}
% teal
\draw[ln=cteal] (ctr.west) -- ++(-29,0) |- (tz-r);
\CV{cteal}{tp-l}{t1.east}\CV{cteal}{tp-l}{t2-r}\CV{cteal}{tp-l}{t3-r}\CV{cteal}{tp-l}{t4-r}
\CV{cteal}{tp-l}{t5-r}\CV{cteal}{tp-l}{t6-r}\CV{cteal}{tp-l}{t7-r}\CV{cteal}{tp-l}{t8-r}
\CV{cteal}{tp-l}{t9-r}\CV{cteal}{tp-l}{t10-r}\CV{cteal}{tp-l}{t11-r}
\CS{cteal}{t1.west}{t1t.east}
\CV{cteal}{t2-l}{t2a-r}\CV{cteal}{t2-l}{t2b.east}\CV{cteal}{t2-l}{t2c.east}
\CV{cteal}{t2-l}{t2d.east}\CV{cteal}{t2-l}{t2e.east}
\CV{cteal}{t3-l}{t3a-r}\CV{cteal}{t3-l}{t3b-r}\CV{cteal}{t3-l}{t3c-r}\CV{cteal}{t3-l}{t3d.east}
\CV{cteal}{t3-l}{t3e.east}\CV{cteal}{t3-l}{t3f.east}\CV{cteal}{t3-l}{t3g.east}
\CV{cteal}{t3c-l}{t3c1-r}\CV{cteal}{t3c-l}{t3c2-r}\CS{cteal}{t3c-l}{t3c3-r}
\CV{cteal}{t3c-l}{t3c4-r}\CV{cteal}{t3c-l}{t3c5-r}
\CV{cteal}{t4-l}{t4a-r}\CV{cteal}{t4-l}{t4b-r}\CV{cteal}{t4-l}{t4c-r}\CV{cteal}{t4-l}{t4d-r}
\CV{cteal}{t4-l}{t4e-r}\CV{cteal}{t4-l}{t4f-r}
\CV{cteal}{t5-l}{t5a-r}\CS{cteal}{t5-l}{t5b-r}\CV{cteal}{t5-l}{t5c-r}\CV{cteal}{t5-l}{t5d-r}
\CV{cteal}{t5a-l}{t5a1-r}\CS{cteal}{t5a-l}{t5a2-r}\CV{cteal}{t5a-l}{t5a3-r}
\CV{cteal}{t5b-l}{t5b1-r}\CV{cteal}{t5b-l}{t5b2-r}
\CV{cteal}{t5c-l}{t5c1-r}\CV{cteal}{t5c-l}{t5c2-r}
\CV{cteal}{t6-l}{t6a-r}\CV{cteal}{t6-l}{t6b-r}\CV{cteal}{t6-l}{t6c-r}\CV{cteal}{t6-l}{t6d-r}
\CV{cteal}{t6-l}{t6e-r}\CV{cteal}{t6-l}{t6f-r}
\CV{cteal}{t7-l}{t7a-r}\CS{cteal}{t7-l}{t7b-r}\CV{cteal}{t7-l}{t7c-r}
\CV{cteal}{t8-l}{t8a-r}\CS{cteal}{t8-l}{t8b-r}\CV{cteal}{t8-l}{t8c-r}
\CV{cteal}{t9-l}{t9a-r}\CV{cteal}{t9-l}{t9b-r}\CV{cteal}{t9-l}{t9c-r}
\CV{cteal}{t9-l}{t9d-r}\CV{cteal}{t9-l}{t9e-r}
\CT{cteal}{t9e-l}{t9et-r}
\CV{cteal}{t10-l}{t10a-r}\CV{cteal}{t10-l}{t10b-r}\CV{cteal}{t10-l}{t10c.east}
\CX{cteal}{t10c.west}{-39}{t10c1.east}\CS{cteal}{t10c.west}{t10c2.east}\CX{cteal}{t10c.west}{-39}{t10c3.east}
\CS{cteal}{t10c1.west}{t10c1t.east}
\CV{cteal}{t11-l}{t11a-r}\CS{cteal}{t11-l}{t11b-r}\CV{cteal}{t11-l}{t11c-r}
\end{scope}
\end{tikzpicture}
\end{document}
